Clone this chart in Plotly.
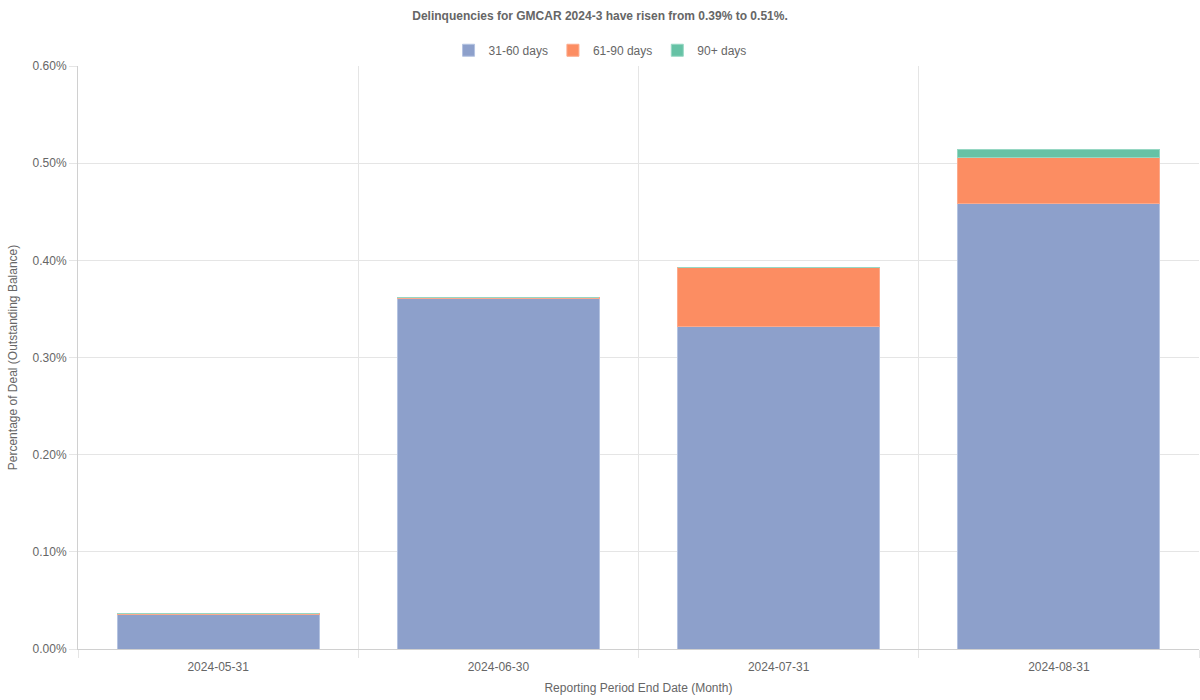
import plotly.graph_objects as go

categories = ["2024-05-31", "2024-06-30", "2024-07-31", "2024-08-31"]
d31_60 = [0.035, 0.361, 0.332, 0.459]
d61_90 = [0.002, 0.001, 0.061, 0.047]
d90_plus = [0.0, 0.0, 0.0, 0.008]

series = [
    ("31-60 days", d31_60, "#8da0cb", "rgba(180,195,225,1)"),
    ("61-90 days", d61_90, "#fc8d62", "rgba(252,170,140,1)"),
    ("90+ days", d90_plus, "#66c2a5", "rgba(150,215,195,1)"),
]

xpos = list(range(len(categories)))

fig = go.Figure()
for name, vals, col, edge in series:
    fig.add_trace(go.Bar(
        name=name, x=xpos, y=vals,
        marker=dict(color=col, line=dict(color=edge, width=1)),
        hovertemplate="%{y:.2f}%<extra>" + name + "</extra>",
    ))

fig.update_layout(
    width=1200, height=700,
    barmode="stack", bargap=0.28,
    paper_bgcolor="white", plot_bgcolor="white",
    margin=dict(l=78, r=1, t=66, b=51),
    font=dict(family="Liberation Sans, Arial, sans-serif", size=12, color="#666"),
    title=dict(text="<b>Delinquencies for GMCAR 2024-3 have risen from 0.39% to 0.51%.</b>",
               x=0.5, xanchor="center", y=0.977, yanchor="middle",
               font=dict(size=12, color="#666")),
    legend=dict(orientation="h", x=0.4657, xanchor="center",
                y=1.027, yanchor="middle",
                font=dict(size=12, color="#666"), traceorder="normal"),
    xaxis=dict(
        range=[-0.5, len(categories) - 0.5],
        tickmode="array", tickvals=xpos, ticktext=categories,
        showgrid=False, ticks="", showline=True, linecolor="#d0d0d0",
        zeroline=False, ticklabelstandoff=7,
        minor=dict(tick0=0.5, dtick=1, showgrid=True, gridcolor="#e5e5e5",
                   ticks="outside", ticklen=8, tickcolor="#e5e5e5"),
        title=dict(text="Reporting Period End Date (Month)", standoff=10,
                   font=dict(size=12, color="#666")),
        tickfont=dict(size=12, color="#666"),
    ),
    yaxis=dict(
        range=[0, 0.6], dtick=0.1, tickformat=".2f", ticksuffix="%",
        showgrid=True, gridcolor="#e5e5e5", zeroline=False,
        showline=True, linecolor="#d0d0d0",
        ticks="outside", ticklen=8, tickcolor="#e5e5e5",
        title=dict(text="Percentage of Deal (Outstanding Balance)", standoff=12,
                   font=dict(size=12, color="#666")),
        tickfont=dict(size=12, color="#666"),
    ),
)

fig.write_html("out.html")
